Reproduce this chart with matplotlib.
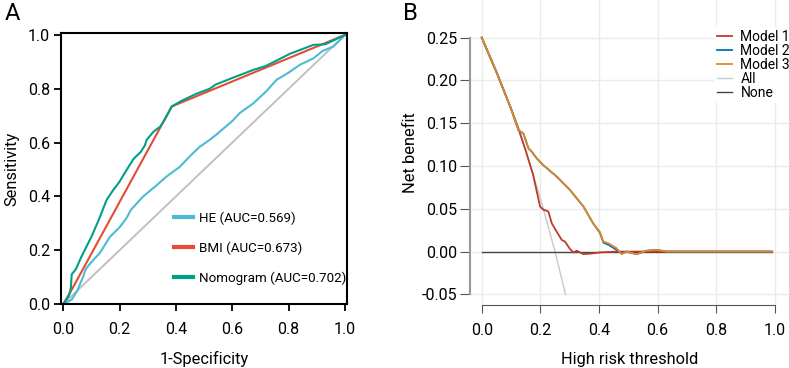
import matplotlib
matplotlib.use("Agg")
import matplotlib.pyplot as plt

plt.rcParams['font.family'] = ['Roboto', 'DejaVu Sans']

# ---- panel A: ROC curves ----
he_fpr = [0, 0.03, 0.05, 0.07, 0.08, 0.095, 0.13, 0.166, 0.2, 0.225, 0.24, 0.284, 0.33, 0.367,
          0.414, 0.45, 0.485, 0.52, 0.544, 0.6, 0.627, 0.675, 0.72, 0.757, 0.8, 0.84, 0.888, 0.92, 0.959, 1.0]
he_tpr = [0, 0.016, 0.05, 0.10, 0.13, 0.15, 0.19, 0.25, 0.285, 0.32, 0.35, 0.40, 0.44, 0.474,
          0.51, 0.55, 0.585, 0.61, 0.63, 0.68, 0.71, 0.746, 0.79, 0.833, 0.86, 0.889, 0.913, 0.94, 0.957, 1.0]
bmi_fpr = [0, 0.03, 0.385, 1.0]
bmi_tpr = [0, 0.053, 0.734, 1.0]
nomo_fpr = [0, 0.02, 0.027, 0.03, 0.045, 0.065, 0.1, 0.125, 0.154, 0.175, 0.2, 0.22, 0.25, 0.275, 0.29,
            0.296, 0.32, 0.345, 0.36, 0.385, 0.42, 0.47, 0.52, 0.54, 0.6, 0.675, 0.72, 0.805, 0.888, 0.93, 1.0]
nomo_tpr = [0, 0.03, 0.06, 0.11, 0.13, 0.177, 0.25, 0.31, 0.387, 0.42, 0.455, 0.49, 0.54, 0.565, 0.59,
            0.61, 0.64, 0.66, 0.685, 0.734, 0.755, 0.78, 0.80, 0.815, 0.84, 0.87, 0.885, 0.93, 0.963, 0.965, 1.0]
roc_labels = ["HE (AUC=0.569)", "BMI (AUC=0.673)", "Nomogram (AUC=0.702)"]

# ---- panel B: decision curves ----
all_x = [0, 0.05, 0.1, 0.15, 0.2, 0.25, 0.2857]
all_y = [0.25, 0.21, 0.167, 0.118, 0.0625, 0.0, -0.05]
none_x = [0, 0.99]
none_y = [0, 0]
m1_x = [0, 0.05, 0.1, 0.125, 0.15, 0.175, 0.199, 0.21, 0.227, 0.239, 0.256, 0.273, 0.284, 0.301,
        0.313, 0.324, 0.347, 0.38, 0.403, 0.46, 0.6, 0.99]
m1_y = [0.25, 0.21, 0.167, 0.144, 0.118, 0.09, 0.0526, 0.049, 0.047, 0.033, 0.023, 0.0136, 0.0117, 0.003,
        -0.001, 0.001, -0.003, -0.002, -0.001, 0.0, 0.0, 0.0]
m2_x = [0, 0.05, 0.1, 0.125, 0.142, 0.159, 0.17, 0.1875, 0.21, 0.256, 0.301, 0.347, 0.38, 0.403,
        0.415, 0.432, 0.46, 0.477, 0.494, 0.528, 0.5625, 0.597, 0.63, 0.99]
m2_y = [0.25, 0.21, 0.167, 0.142, 0.138, 0.121, 0.117, 0.109, 0.101, 0.0876, 0.072, 0.0526, 0.033, 0.022,
        0.0105, 0.008, 0.002, -0.002, 0.0, -0.003, 0.001, 0.002, 0.0, 0.0]
m3_x = [0, 0.05, 0.1, 0.125, 0.142, 0.159, 0.17, 0.1875, 0.21, 0.256, 0.301, 0.347, 0.38, 0.403,
        0.415, 0.432, 0.46, 0.477, 0.494, 0.528, 0.5625, 0.597, 0.63, 0.99]
m3_y = [0.25, 0.21, 0.167, 0.142, 0.138, 0.121, 0.117, 0.109, 0.101, 0.0876, 0.072, 0.0526, 0.033, 0.023,
        0.0117, 0.0097, 0.004, -0.003, 0.0, -0.003, 0.001, 0.002, 0.0, 0.0]

fig = plt.figure(figsize=(7.89, 3.68), dpi=100)

# panel A
ax = fig.add_axes([61/789, 1 - 304/368, 286/789, 271/368])
ax.plot([0, 1], [0, 1], color="#c0c0c0", lw=1.4)
ax.plot(he_fpr, he_tpr, color="#4DBBD5", lw=1.5, label=roc_labels[0])
ax.plot(bmi_fpr, bmi_tpr, color="#E64B35", lw=1.5, label=roc_labels[1])
ax.plot(nomo_fpr, nomo_tpr, color="#00A087", lw=1.5, label=roc_labels[2])
ax.set_xlim(-0.008, 1.007)
ax.set_ylim(0, 1.007)
ax.set_xticks([0, 0.2, 0.4, 0.6, 0.8, 1.0])
ax.set_yticks([0, 0.2, 0.4, 0.6, 0.8, 1.0])
ax.set_xticklabels(["0.0", "0.2", "0.4", "0.6", "0.8", "1.0"])
ax.set_yticklabels(["0.0", "0.2", "0.4", "0.6", "0.8", "1.0"])
for s in ax.spines.values():
    s.set_linewidth(1.5)
ax.tick_params(axis="x", length=5, width=1.3, labelsize=11.5, pad=8)
ax.tick_params(axis="y", length=5, width=1.3, labelsize=11.5, pad=3)
ax.set_xlabel("1-Specificity", fontsize=11.8, labelpad=10)
ax.set_ylabel("Sensitivity", fontsize=11.8, labelpad=6)
leg = ax.legend(loc="lower left", bbox_to_anchor=(0.395, 0.07), frameon=False, fontsize=9.6,
                handlelength=1.4, handletextpad=0.5, labelspacing=1.25, borderpad=0, borderaxespad=0)
for h in leg.get_lines():
    h.set_linewidth(3)
fig.text(5/789, 1 - 20/368, "A", fontsize=17)

# panel B
bx = fig.add_axes([470/789, 1 - 305/368, 319/789, 305/368])
bx.set_xlim(-0.04, 1.048)
bx.set_ylim(-0.0624, 0.294)
bx.grid(True, color="#ebebeb", lw=1)
bx.set_axisbelow(True)
bx.plot(all_x, all_y, color="#c8c8c8", lw=1, label="All")
bx.plot(none_x, none_y, color="#444444", lw=1, label="None")
bx.plot(m1_x, m1_y, color="#BC3C29", lw=1.3, label="Model 1")
bx.plot(m2_x, m2_y, color="#0072B5", lw=1.3, label="Model 2")
bx.plot(m3_x, m3_y, color="#E18727", lw=1.3, label="Model 3")
bx.set_xticks([0, 0.2, 0.4, 0.6, 0.8, 1.0])
bx.set_xticklabels(["0.0", "0.2", "0.4", "0.6", "0.8", "1.0"])
bx.set_yticks([-0.05, 0, 0.05, 0.10, 0.15, 0.20, 0.25])
bx.set_yticklabels(["-0.05", "0.00", "0.05", "0.10", "0.15", "0.20", "0.25"])
bx.spines["top"].set_visible(False)
bx.spines["right"].set_visible(False)
bx.spines["left"].set_bounds(-0.05, 0.25)
bx.spines["left"].set_color("#999999")
bx.spines["left"].set_linewidth(1.5)
bx.spines["bottom"].set_bounds(0, 1.0)
bx.spines["bottom"].set_color("#555555")
bx.spines["bottom"].set_position(("data", -0.0624))
bx.tick_params(axis="y", length=7, color="#555555", labelsize=11.5, pad=2)
bx.tick_params(axis="x", length=6, color="#555555", labelsize=11.5, pad=7)
bx.set_xlabel("High risk threshold", fontsize=11.8, labelpad=10)
bx.set_ylabel("Net benefit", fontsize=11.8, labelpad=3)
hs, ls = bx.get_legend_handles_labels()
order = [2, 3, 4, 0, 1]
bleg = bx.legend([hs[i] for i in order], [ls[i] for i in order], loc="upper left",
                 bbox_to_anchor=(0.765, 0.91), frameon=True, fontsize=10, handlelength=1.1,
                 handletextpad=0.6, labelspacing=0.0, borderpad=0.2, borderaxespad=0)
bleg.get_frame().set_edgecolor("none")
bleg.get_frame().set_facecolor("white")
bleg.get_frame().set_alpha(1)
fig.text(403/789, 1 - 20/368, "B", fontsize=17)

fig.savefig("out.png", dpi=100)
